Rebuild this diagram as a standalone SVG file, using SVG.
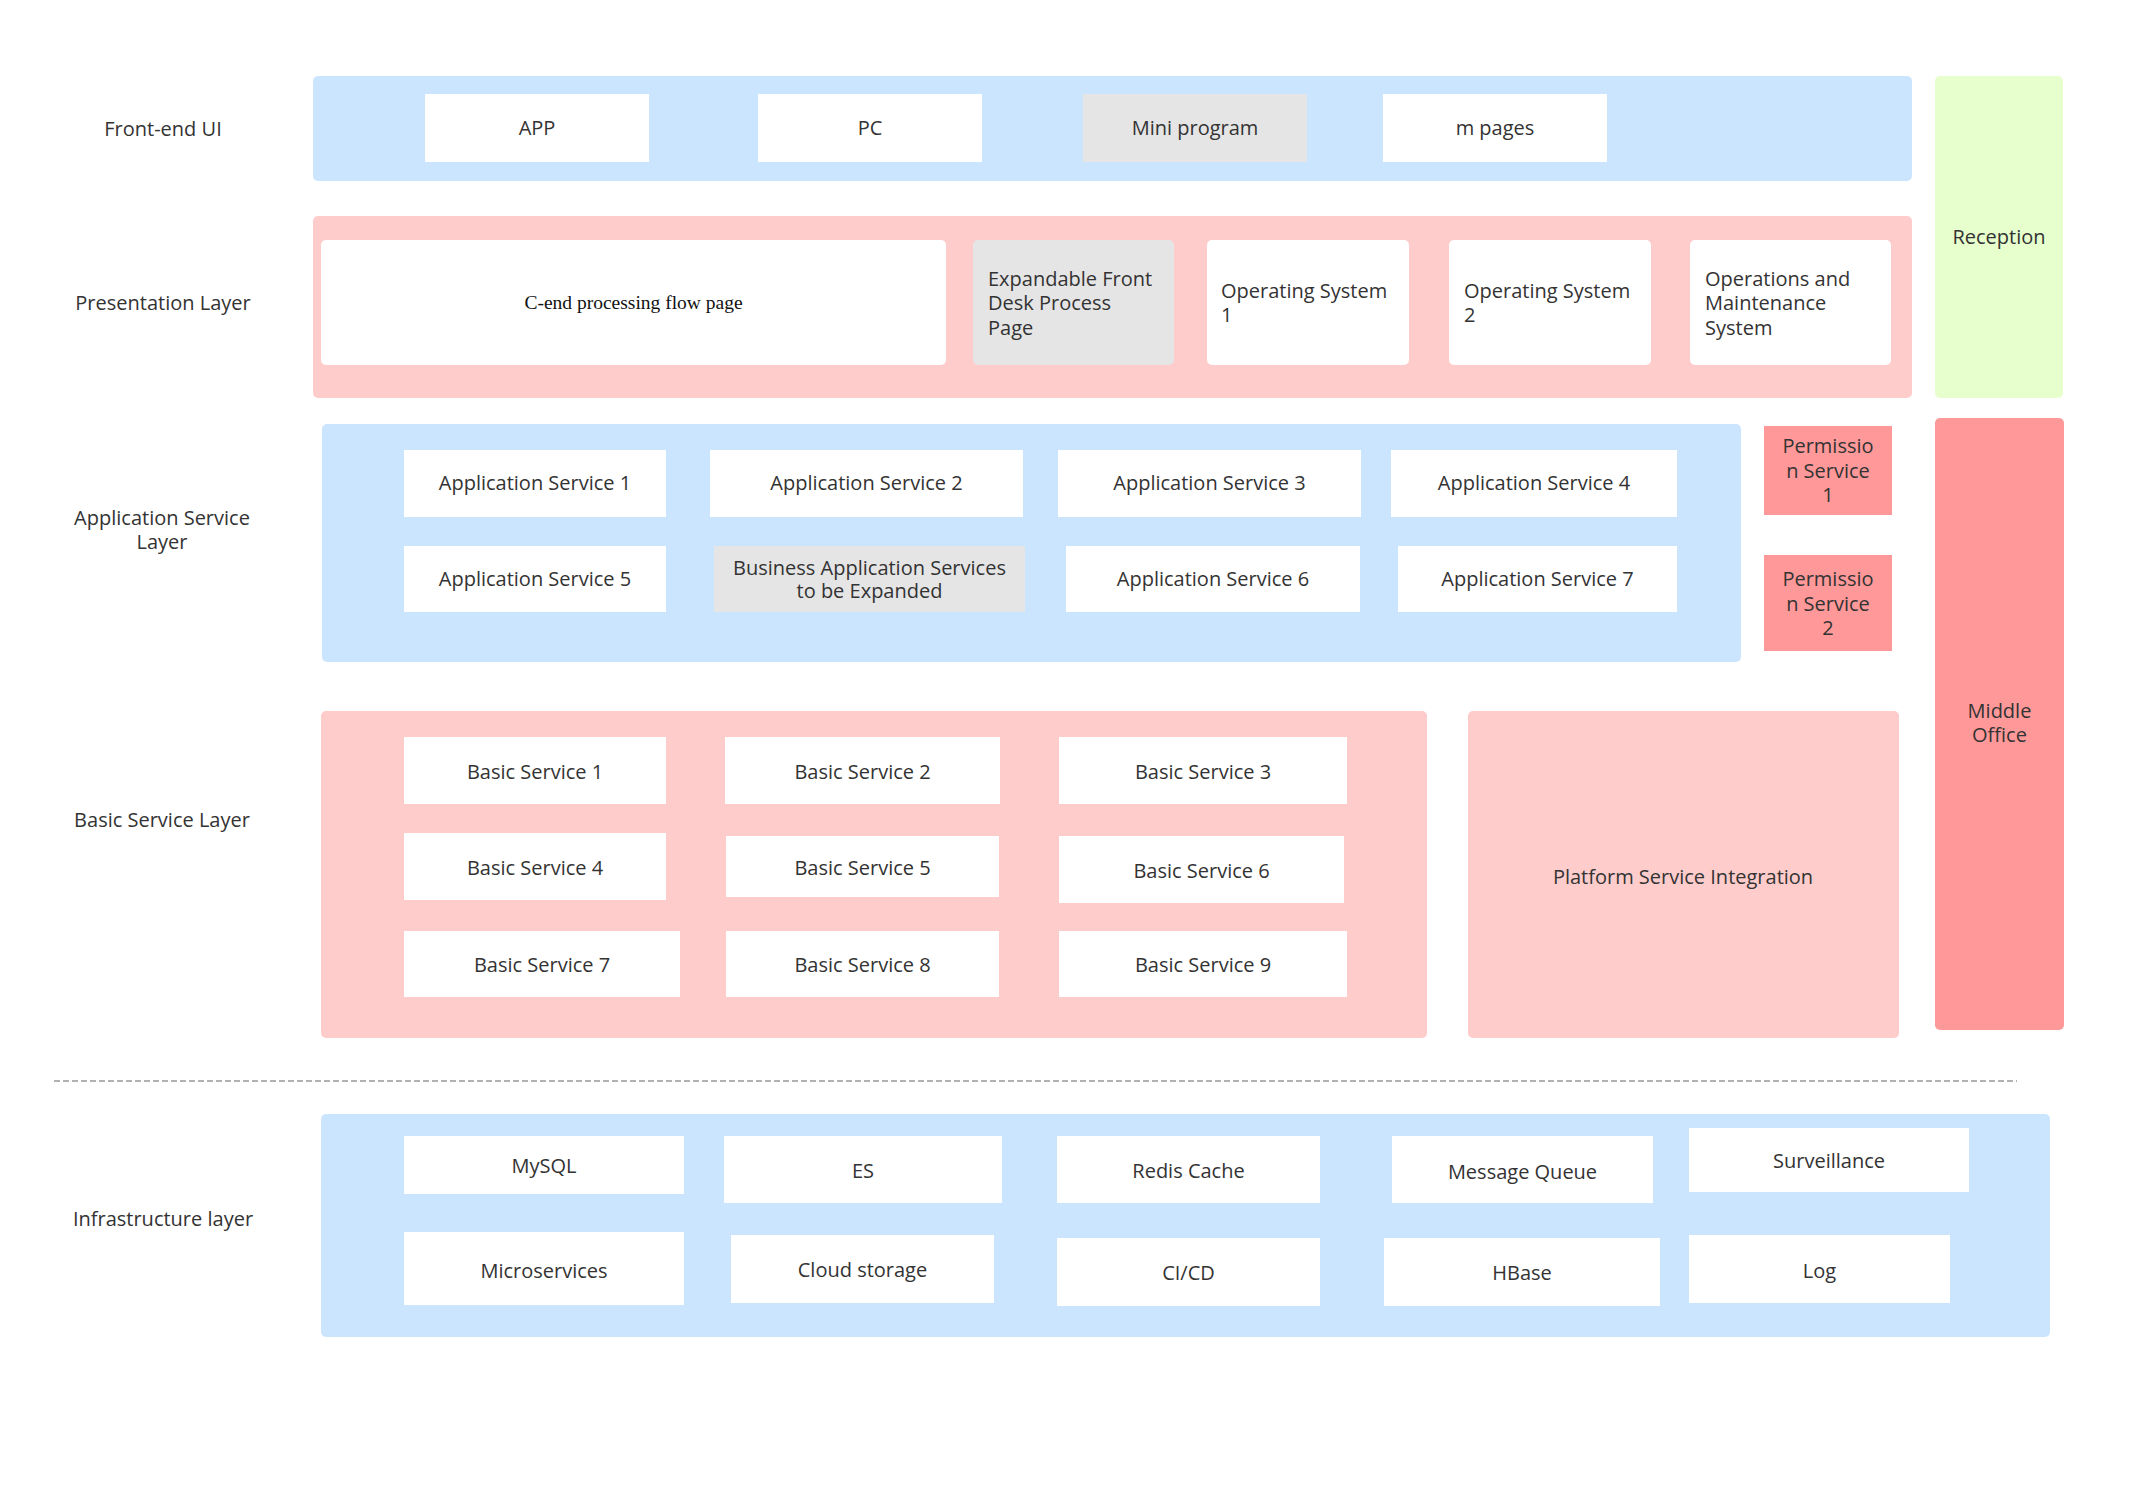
<svg xmlns="http://www.w3.org/2000/svg" width="2131" height="1488" viewBox="0 0 2131 1488">
<style>
text{font-family:"Open Sans","Noto Sans","DejaVu Sans",sans-serif;font-size:20px;fill:#333}
.c{text-anchor:middle}
.serif{font-family:"Liberation Serif","Times New Roman",serif;font-size:19.5px;fill:#111}
.blue{fill:#cce5ff}
.pink{fill:#ffcccc}
.red{fill:#ff9999}
.green{fill:#e6ffcc}
.white{fill:#ffffff}
.gray{fill:#e5e5e5}
</style>
<rect width="2131" height="1488" fill="#ffffff"/>
<g id="labels">
<text class="c" x="163" y="136">Front-end UI</text>
<text class="c" x="163" y="310">Presentation Layer</text>
<text class="c" x="162" y="525">Application Service</text>
<text class="c" x="162" y="549">Layer</text>
<text class="c" x="162" y="827">Basic Service Layer</text>
<text class="c" x="163" y="1226">Infrastructure layer</text>
</g>
<g id="frontend-layer">
<rect class="blue" x="313" y="76" width="1599" height="105" rx="5"/>
</g>
<g id="app"><rect class="white" x="425" y="94" width="224" height="68"/><text class="c" x="537" y="135">APP</text></g>
<g id="pc"><rect class="white" x="758" y="94" width="224" height="68"/><text class="c" x="870" y="135">PC</text></g>
<g id="mini-program"><rect class="gray" x="1083" y="94" width="224" height="68"/><text class="c" x="1195" y="135">Mini program</text></g>
<g id="m-pages"><rect class="white" x="1383" y="94" width="224" height="68"/><text class="c" x="1495" y="135">m pages</text></g>
<g id="presentation-layer">
<rect class="pink" x="313" y="216" width="1599" height="182" rx="5"/>
</g>
<g id="c-end"><rect class="white" x="321" y="240" width="625" height="125" rx="5"/><text class="c serif" x="633.5" y="309">C-end processing flow page</text></g>
<g id="expandable-front"><rect class="gray" x="973" y="240" width="201" height="125" rx="5"/>
<text x="988" y="286">Expandable Front</text><text x="988" y="310">Desk Process</text><text x="988" y="335">Page</text></g>
<g id="os1"><rect class="white" x="1207" y="240" width="202" height="125" rx="5"/>
<text x="1221" y="298">Operating System</text><text x="1221" y="322">1</text></g>
<g id="os2"><rect class="white" x="1449" y="240" width="202" height="125" rx="5"/>
<text x="1464" y="298">Operating System</text><text x="1464" y="322">2</text></g>
<g id="om"><rect class="white" x="1690" y="240" width="201" height="125" rx="5"/>
<text x="1705" y="286">Operations and</text><text x="1705" y="310">Maintenance</text><text x="1705" y="335">System</text></g>
<g id="reception"><rect class="green" x="1935" y="76" width="128" height="322" rx="5"/><text class="c" x="1999" y="244">Reception</text></g>
<g id="application-layer">
<rect class="blue" x="322" y="424" width="1419" height="238" rx="5"/>
</g>
<g id="as1"><rect class="white" x="404" y="450" width="262" height="67"/><text class="c" x="535" y="490">Application Service 1</text></g>
<g id="as2"><rect class="white" x="710" y="450" width="313" height="67"/><text class="c" x="866.5" y="490">Application Service 2</text></g>
<g id="as3"><rect class="white" x="1058" y="450" width="303" height="67"/><text class="c" x="1209.5" y="490">Application Service 3</text></g>
<g id="as4"><rect class="white" x="1391" y="450" width="286" height="67"/><text class="c" x="1534" y="490">Application Service 4</text></g>
<g id="as5"><rect class="white" x="404" y="546" width="262" height="66"/><text class="c" x="535" y="586">Application Service 5</text></g>
<g id="bas"><rect class="gray" x="714" y="546" width="311" height="66"/><text class="c" x="869.5" y="575">Business Application Services</text><text class="c" x="869.5" y="598">to be Expanded</text></g>
<g id="as6"><rect class="white" x="1066" y="546" width="294" height="66"/><text class="c" x="1213" y="586">Application Service 6</text></g>
<g id="as7"><rect class="white" x="1398" y="546" width="279" height="66"/><text class="c" x="1537.5" y="586">Application Service 7</text></g>
<g id="perm1"><rect class="red" x="1764" y="426" width="128" height="89"/><text class="c" x="1828" y="453">Permissio</text><text class="c" x="1828" y="478">n Service</text><text class="c" x="1828" y="502">1</text></g>
<g id="perm2"><rect class="red" x="1764" y="555" width="128" height="96"/><text class="c" x="1828" y="586">Permissio</text><text class="c" x="1828" y="611">n Service</text><text class="c" x="1828" y="635">2</text></g>
<g id="middle-office"><rect class="red" x="1935" y="418" width="129" height="612" rx="5"/><text class="c" x="1999.5" y="718">Middle</text><text class="c" x="1999.5" y="742">Office</text></g>
<g id="basic-layer">
<rect class="pink" x="321" y="711" width="1106" height="327" rx="5"/>
</g>
<g id="platform"><rect class="pink" x="1468" y="711" width="431" height="327" rx="5"/><text class="c" x="1683" y="884">Platform Service Integration</text></g>
<g id="bs1"><rect class="white" x="404" y="737" width="262" height="67"/><text class="c" x="535" y="779">Basic Service 1</text></g>
<g id="bs2"><rect class="white" x="725" y="737" width="275" height="67"/><text class="c" x="862.5" y="779">Basic Service 2</text></g>
<g id="bs3"><rect class="white" x="1059" y="737" width="288" height="67"/><text class="c" x="1203" y="779">Basic Service 3</text></g>
<g id="bs4"><rect class="white" x="404" y="833" width="262" height="67"/><text class="c" x="535" y="875">Basic Service 4</text></g>
<g id="bs5"><rect class="white" x="726" y="836" width="273" height="61"/><text class="c" x="862.5" y="875">Basic Service 5</text></g>
<g id="bs6"><rect class="white" x="1059" y="836" width="285" height="67"/><text class="c" x="1201.5" y="878">Basic Service 6</text></g>
<g id="bs7"><rect class="white" x="404" y="931" width="276" height="66"/><text class="c" x="542" y="972">Basic Service 7</text></g>
<g id="bs8"><rect class="white" x="726" y="931" width="273" height="66"/><text class="c" x="862.5" y="972">Basic Service 8</text></g>
<g id="bs9"><rect class="white" x="1059" y="931" width="288" height="66"/><text class="c" x="1203" y="972">Basic Service 9</text></g>
<g id="connectors">
<line x1="54" y1="1081" x2="2017" y2="1081" stroke="#999999" stroke-width="1.5" stroke-dasharray="6 3"/>
</g>
<g id="infrastructure-layer">
<rect class="blue" x="321" y="1114" width="1729" height="223" rx="5"/>
</g>
<g id="mysql"><rect class="white" x="404" y="1136" width="280" height="58"/><text class="c" x="544" y="1173">MySQL</text></g>
<g id="es"><rect class="white" x="724" y="1136" width="278" height="67"/><text class="c" x="863" y="1178">ES</text></g>
<g id="redis"><rect class="white" x="1057" y="1136" width="263" height="67"/><text class="c" x="1188.5" y="1178">Redis Cache</text></g>
<g id="mq"><rect class="white" x="1392" y="1136" width="261" height="67"/><text class="c" x="1522.5" y="1179">Message Queue</text></g>
<g id="surveillance"><rect class="white" x="1689" y="1128" width="280" height="64"/><text class="c" x="1829" y="1168">Surveillance</text></g>
<g id="microservices"><rect class="white" x="404" y="1232" width="280" height="73"/><text class="c" x="544" y="1278">Microservices</text></g>
<g id="cloud-storage"><rect class="white" x="731" y="1235" width="263" height="68"/><text class="c" x="862.5" y="1277">Cloud storage</text></g>
<g id="cicd"><rect class="white" x="1057" y="1238" width="263" height="68"/><text class="c" x="1188.5" y="1280">CI/CD</text></g>
<g id="hbase"><rect class="white" x="1384" y="1238" width="276" height="68"/><text class="c" x="1522" y="1280">HBase</text></g>
<g id="log"><rect class="white" x="1689" y="1235" width="261" height="68"/><text class="c" x="1819.5" y="1278">Log</text></g>
</svg>
